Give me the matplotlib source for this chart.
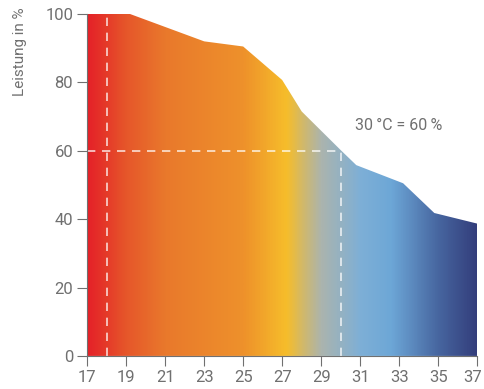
import numpy as np
import matplotlib.pyplot as plt
import matplotlib.transforms as mtransforms
from matplotlib.colors import LinearSegmentedColormap
from matplotlib.patches import Polygon

# Leistung (%) ueber Temperatur (degC)
temp = [17, 19.2, 23, 25, 27, 28, 30, 30.8, 33.2, 34.8, 37]
leistung = [100, 100, 92, 90.5, 80.7, 71.5, 60.2, 55.8, 50.5, 41.8, 38.7]

grad_pos = [17, 19, 21, 25, 27.2, 29, 31, 32.6, 35, 37]
grad_col = ['#e42128', '#e6572a', '#e9792c', '#ee912b', '#f6bd2a', '#abb4ae',
            '#7eafd6', '#6da7d7', '#4766a0', '#333d7b']

xticks = list(range(17, 38, 2))
yticks = [0, 20, 40, 60, 80, 100]
grey = '#707070'

plt.rcParams['font.family'] = ['Roboto', 'DejaVu Sans']

fig = plt.figure(figsize=(4.84, 3.89), dpi=100)
ax = fig.add_axes([0.18, 0.085, 0.806, 0.879])

stops = [(p - 17) / 20 for p in grad_pos]
cmap = LinearSegmentedColormap.from_list('temp', list(zip(stops, grad_col)))
grad = np.linspace(0, 1, 500).reshape(1, -1)
img = ax.imshow(grad, cmap=cmap, extent=[17, 37, 0, 100], aspect='auto',
                origin='lower', zorder=1)
poly = Polygon(list(zip(temp, leistung)) + [(37, 0), (17, 0)], closed=True,
               facecolor='none', edgecolor='none')
ax.add_patch(poly)
img.set_clip_path(poly)

dash = dict(color='white', alpha=0.8, lw=1.2, dashes=(5, 4), zorder=3)
ax.plot([18, 18], [0, 100], **dash)
ax.plot([17, 30], [60, 60], **dash)
ax.plot([30, 30], [0, 60], **dash)

ax.text(30.75, 67.5, '30\u2009°C = 60\u2009%', color=grey, fontsize=11.5,
        va='center', ha='left')

ax.set_xlim(17, 37)
ax.set_ylim(0, 100)
ax.set_xticks(xticks)
ax.set_yticks(yticks)
ax.set_ylabel('Leistung in %', color=grey, fontsize=11)
ax.yaxis.set_label_coords(-0.153, 0.889)
for s in ['top', 'right']:
    ax.spines[s].set_visible(False)
for s in ['left', 'bottom']:
    ax.spines[s].set_color(grey)
    ax.spines[s].set_zorder(4)
ax.tick_params(colors=grey, labelsize=12, length=7, direction='out', pad=3)

# letzte Beschriftung etwas nach links, damit sie nicht abgeschnitten wird
last = ax.get_xticklabels()[-1]
last.set_transform(last.get_transform() +
                   mtransforms.ScaledTranslation(-3 / 72, 0, fig.dpi_scale_trans))

fig.savefig('out.png', dpi=100)
